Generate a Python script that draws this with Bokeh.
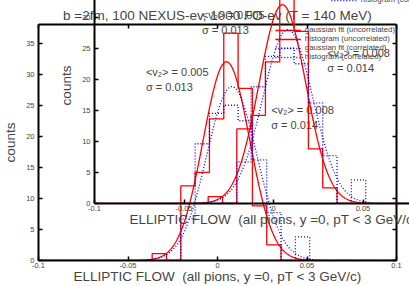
import numpy as np
from bokeh.plotting import figure
from bokeh.models import (Range1d, LinearAxis, FixedTicker, NumeralTickFormatter,
                          Label, Legend, LegendItem, Title)
from bokeh.layouts import column
from bokeh.embed import file_html
from bokeh.resources import INLINE

# ---------------- data ----------------
title_text = "b =2fm, 100 NEXUS-ev, 1000 FO-ev (T = 140 MeV)"
x_label = "ELLIPTIC FLOW\u00a0 (all pions, y =0, pT < 3 GeV/c)"
y_label = "counts"
x_ticks = [-0.1, -0.05, 0.0, 0.05, 0.1]
y_ticks = [0, 5, 10, 15, 20, 25, 30, 35]

bin_edges = [-0.0365, -0.0285, -0.0205, -0.0125, -0.0045, 0.0035,
             0.0115, 0.0195, 0.0275, 0.0355, 0.0435, 0.0515]
hist_uncorr = [1.1, 0, 12, 14.2, 22.8, 36.6, 27.7, 8.8, 2.5, 0, 0]
hist_corr = [0, 0, 6.7, 18.8, 23.7, 25, 22.5, 16.2, 7.7, 0, 3.8]

fit_uncorr = {"mean": 0.005, "sigma": 0.013, "amp": 32.0}
fit_corr = {"mean": 0.008, "sigma": 0.014, "amp": 28.0}

ann_uncorr = ["<v\u2082> = 0.005", "\u03c3 = 0.013"]
ann_uncorr_pos = [(-0.040, 30.4), (-0.040, 27.9)]
ann_corr = ["<v\u2082> = 0.008", "\u03c3 = 0.014"]
ann_corr_pos = [(0.030, 24.2), (0.030, 21.8)]

legend_labels = ["gaussian fit (uncorrelated)", "histogram (uncorrelated)",
                 "gaussian fit (correlated)", "histogram (correlated)"]

RED = "#ff0000"
BLUE = "#0000ff"
W, H = 409, 286
DX, DY = 56, 57
FONT = "Liberation Sans"


def step_xy(edges, counts):
    xs, ys = [edges[0]], [0]
    for i, c in enumerate(counts):
        xs += [edges[i], edges[i + 1]]
        ys += [c, c]
    xs.append(edges[-1])
    ys.append(0)
    return xs, ys


def gauss(fit):
    x = np.linspace(-0.1, 0.1, 801)
    return x, fit["amp"] * np.exp(-(x - fit["mean"]) ** 2 / (2 * fit["sigma"] ** 2))


def build(transparent):
    p = figure(width=W, height=H, x_range=Range1d(-0.1, 0.1), y_range=Range1d(0, 38),
               output_backend="svg", toolbar_location=None,
               x_axis_type=None, y_axis_type=None,
               min_border_left=36, min_border_right=13, min_border_top=24,
               min_border_bottom=24)
    p.grid.visible = False
    p.outline_line_color = None
    if transparent:
        p.background_fill_color = None
        p.border_fill_color = None
        p.background_fill_alpha = 0
        p.border_fill_alpha = 0

    def style_axis(ax, labels=True):
        ax.axis_line_width = 2
        ax.axis_line_color = "black"
        ax.major_tick_in = 4
        ax.major_tick_out = 0
        ax.major_tick_line_width = 1.5
        ax.minor_tick_line_color = None
        ax.major_label_text_font = FONT
        if labels:
            ax.major_label_text_font_size = "7.5px"
            ax.major_label_standoff = 2
        else:
            ax.major_label_text_font_size = "1px"
            ax.major_label_text_color = None
            ax.major_label_standoff = 0
        ax.axis_label_text_font = FONT
        ax.axis_label_text_font_style = "normal"
        ax.axis_label_text_font_size = "13.5px"

    xb = LinearAxis(ticker=FixedTicker(ticks=x_ticks),
                    formatter=NumeralTickFormatter(format="0.[00]"),
                    axis_label=x_label)
    yl = LinearAxis(ticker=FixedTicker(ticks=y_ticks), axis_label=y_label)
    xt = LinearAxis(ticker=FixedTicker(ticks=x_ticks))
    yr = LinearAxis(ticker=FixedTicker(ticks=y_ticks))
    style_axis(xb)
    style_axis(yl)
    style_axis(xt, False)
    style_axis(yr, False)
    xb.axis_label_standoff = -2
    yl.major_label_standoff = 4
    yl.axis_label_standoff = 5
    p.add_layout(xb, "below")
    p.add_layout(yl, "left")
    p.add_layout(xt, "above")
    p.add_layout(yr, "right")

    t = Title(text=title_text, align="center", text_font=FONT,
              text_font_size="13.5px", text_font_style="normal", standoff=4)
    p.add_layout(t, "above")

    gx, gy = gauss(fit_uncorr)
    r1 = p.line(gx, gy, line_color=RED, line_width=1.3)
    hx, hy = step_xy(bin_edges, hist_uncorr)
    r2 = p.line(hx, hy, line_color=RED, line_width=1.3)
    gx2, gy2 = gauss(fit_corr)
    r3 = p.line(gx2, gy2, line_color=BLUE, line_width=1.3, line_dash="1 2")
    hx2, hy2 = step_xy(bin_edges, hist_corr)
    r4 = p.line(hx2, hy2, line_color=BLUE, line_width=1.3, line_dash="1 2")

    leg = Legend(items=[LegendItem(label=legend_labels[0], renderers=[r1]),
                        LegendItem(label=legend_labels[1], renderers=[r2]),
                        LegendItem(label=legend_labels[2], renderers=[r3]),
                        LegendItem(label=legend_labels[3], renderers=[r4])],
                 location="top_right", background_fill_alpha=0,
                 border_line_color=None, label_text_font=FONT,
                 label_text_font_size="7.8px",
                 glyph_width=26, glyph_height=8,
                 label_height=8, spacing=0, padding=2, margin=1,
                 label_standoff=4)
    p.add_layout(leg)

    for (x, y), txt in zip(ann_uncorr_pos, ann_uncorr):
        p.add_layout(Label(x=x, y=y, text=txt, text_font=FONT,
                           text_font_size="11px", text_baseline="middle"))
    for (x, y), txt in zip(ann_corr_pos, ann_corr):
        p.add_layout(Label(x=x, y=y, text=txt, text_font=FONT,
                           text_font_size="11px", text_baseline="middle"))
    return p


p_out = build(False)
p_in = build(True)
p_in.margin = (-(H + DY), 0, 0, DX)
page = column(p_out, p_in, width=W, height=H, styles={"overflow": "hidden"})

open("out.html", "w").write(file_html(page, INLINE))
